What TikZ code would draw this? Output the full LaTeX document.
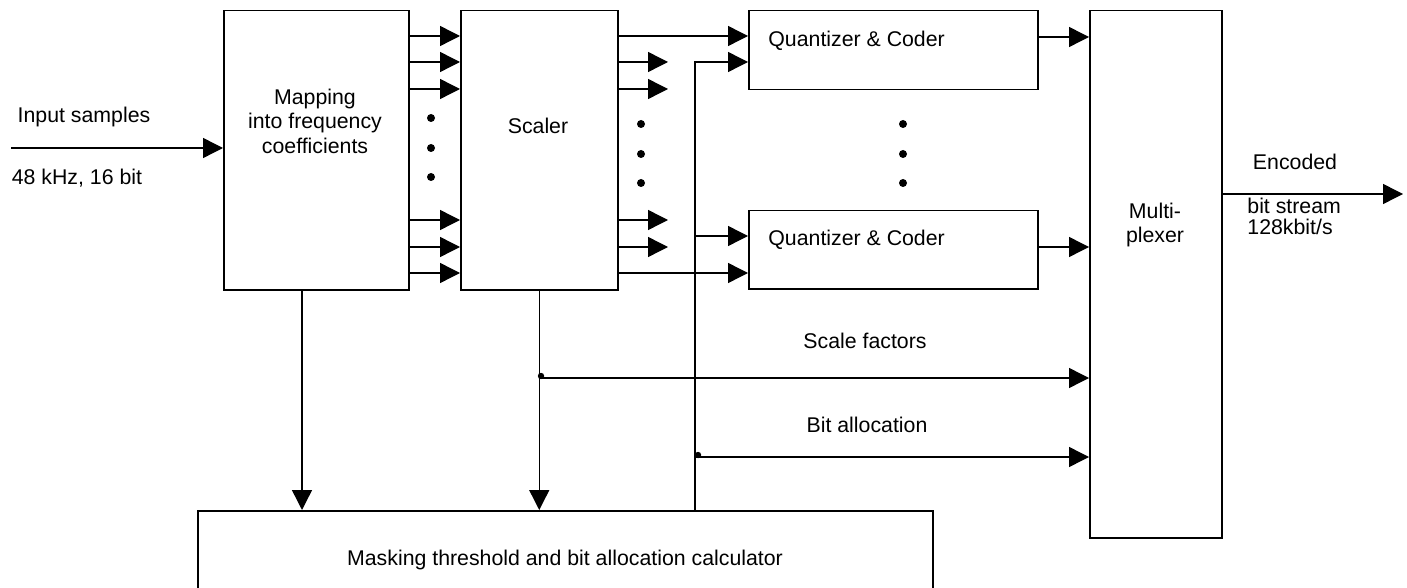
\documentclass[tikz,border=0pt]{standalone}
\usepackage{fontspec}
\setmainfont{Liberation Sans}
\usepackage{tikz}
\usetikzlibrary{arrows.meta}

\begin{document}
\begin{tikzpicture}[
x = 0.5pt, y = -0.5pt,
blkrect/.style={rectangle, draw = black, line width = 0.75pt, anchor = north west, inner sep = 0pt},
sigarr/.style={-{Triangle[length=10pt, width=10pt]}, line width = 0.7pt},
lbl/.style={align = center, inner sep = 0pt, font = \fontsize{10.65}{12.3}\selectfont}]

\useasboundingbox (0,0) rectangle (1407,588);

\node[blkrect, minimum width = 92.5pt, minimum height = 139.5pt] (map) at (223,10) {};
\node[blkrect, minimum width = 78.5pt, minimum height = 139.5pt] (scl) at (460,10) {};
\node[blkrect, minimum width = 144.5pt, minimum height = 39.5pt] (qc1) at (748,10) {};
\node[blkrect, minimum width = 144.5pt, minimum height = 39pt] (qc2) at (748,210) {};
\node[blkrect, minimum width = 66pt, minimum height = 263.5pt] (mux) at (1089,10) {};
\node[blkrect, minimum width = 367.5pt, minimum height = 50pt] (msk) at (197,510) {};

\node[lbl] (maptxt) at (315,121) {Mapping\\into frequency\\coefficients};
\node[lbl] (scltxt) at (538,126) {Scaler};
\node[lbl, anchor = west] (qc1txt) at (768,41) {Quantizer \& Coder};
\node[lbl, anchor = west] (qc2txt) at (768,240) {Quantizer \& Coder};
\node[lbl] (muxtxt) at (1155,225) {Multi-\\plexer};
\node[lbl] (msktxt) at (565,560) {Masking threshold and bit allocation calculator};
\node[lbl] (intxt) at (84,117) {Input samples};
\node[lbl] (ratetxt) at (77,178) {48 kHz, 16 bit};
\node[lbl] (enctxt) at (1295,162) {Encoded};
\node[lbl, align = left, anchor = west] (bstxt) at (1247,216) {bit stream\\[-1.7pt]128kbit/s};
\node[lbl] (sftxt) at (865,341) {Scale factors};
\node[lbl] (batxt) at (867,425) {Bit allocation};

\coordinate (src) at (11,148);
\coordinate (sink) at (1403,194);
\coordinate (sclend) at (668,0);
\coordinate (maptap) at (302,0);
\coordinate (batap) at (695,0);

\draw[sigarr] (src) -- (map.west |- src);
\foreach \yy in {36,62,89,220,247,273}
  \draw[sigarr] (map.east |- 0,\yy) -- (scl.west |- 0,\yy);
\foreach \yy in {62,89,220,247}
  \draw[sigarr] (scl.east |- 0,\yy) -- (sclend |- 0,\yy);
\draw[sigarr] (scl.east |- 0,36) -- (qc1.west |- 0,36);
\draw[sigarr] (scl.east |- 0,273) -- (qc2.west |- 0,273);

%\draw[sigarr] (map.south) -- (msk.north -| map.south);
\draw[sigarr] (map.south -| maptap) -- (msk.north -| maptap);
\draw[sigarr] (scl.south) -- (msk.north -| scl.south);
\draw[sigarr] (scl.south |- 0,378) -- (mux.west |- 0,378);

\draw[sigarr] (msk.north -| batap) |- (qc1.west |- 0,62);
\draw[sigarr] (batap |- 0,236) -- (qc2.west |- 0,236);
\draw[sigarr] (batap |- 0,457) -- (mux.west |- 0,457);

\draw[sigarr] (qc1.east |- 0,37) -- (mux.west |- 0,37);
\draw[sigarr] (qc2.east |- 0,247) -- (mux.west |- 0,247);
\draw[sigarr] (mux.east |- sink) -- (sink);

\foreach \yy in {118,148,177} \fill (431,\yy) circle (2pt);
\foreach \yy in {124,154,183} {
  \fill (641,\yy) circle (2pt);
  \fill (903,\yy) circle (2pt);
}
\fill (541,376) circle (1.6pt);
\fill (698,455) circle (1.6pt);

\end{tikzpicture}
\end{document}
